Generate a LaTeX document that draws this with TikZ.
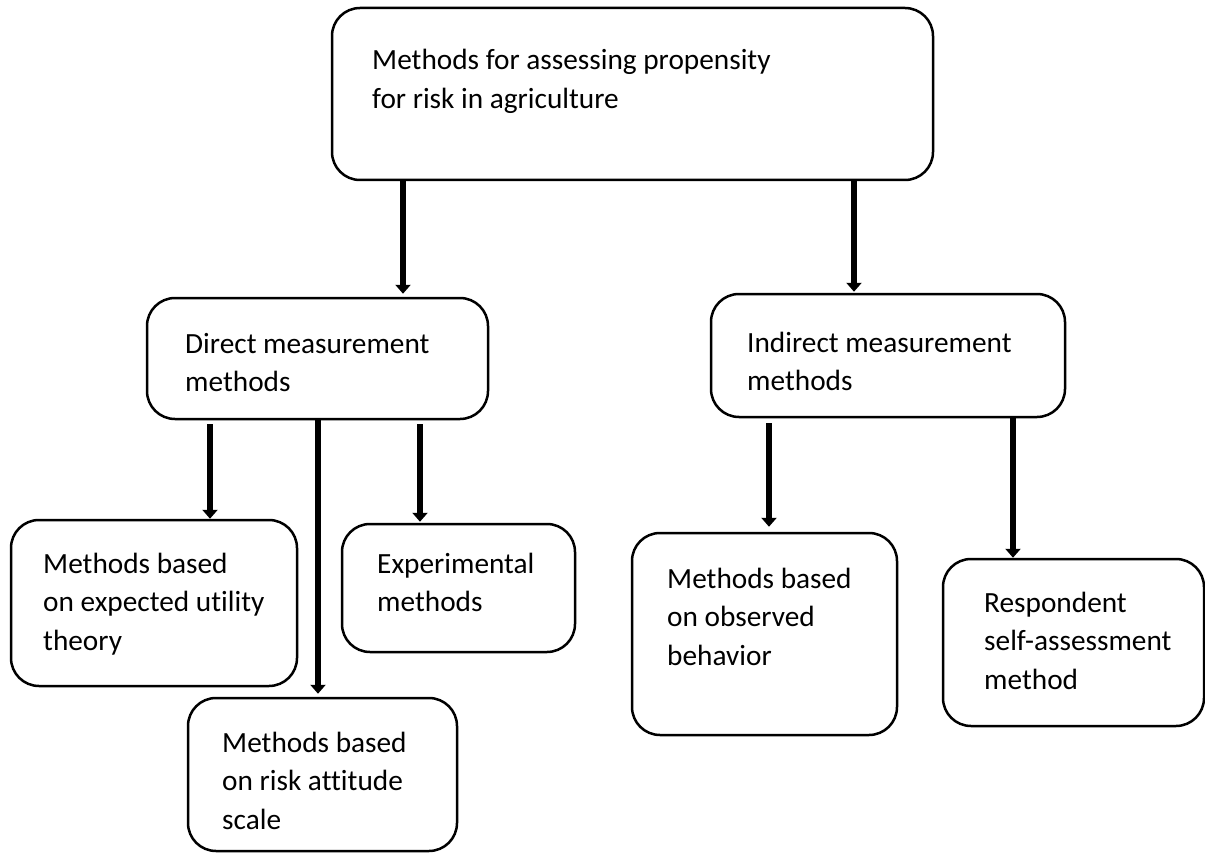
\documentclass[tikz,border=0pt]{standalone}
\usepackage{fontspec}
\setmainfont{Carlito}[Ligatures={NoCommon}]
\usetikzlibrary{arrows.meta}
\newcommand{\mylines}[1]{\begin{tabular}[t]{@{}l@{}}#1\end{tabular}}
\tikzset{
  box/.style={draw=black, line width=2.5pt, rounded corners=28pt, fill=white, inner sep=0pt},
  txt/.style={anchor=base west, inner sep=0pt, font=\fontsize{29.3}{38.5}\selectfont},
  arr/.style={line width=6.5pt, -{Triangle[width=15pt,length=9pt]}},
}
\begin{document}
\begin{tikzpicture}[x=1pt,y=-1pt]
\useasboundingbox (0,0) rectangle (1205,853);
% boxes
\node[box, minimum width=601pt, minimum height=172pt] (top) at (632.5,94) {};
\node[box, minimum width=341pt, minimum height=121pt] (direct) at (317.5,358.5) {};
\node[box, minimum width=354pt, minimum height=123pt] (indirect) at (888,355.5) {};
\node[box, minimum width=286pt, minimum height=166pt] (eu) at (154,603) {};
\node[box, minimum width=233pt, minimum height=128pt] (exp) at (458.5,588) {};
\node[box, minimum width=269pt, minimum height=153pt] (risk) at (322.5,774.5) {};
\node[box, minimum width=265pt, minimum height=202pt] (obs) at (764.5,634) {};
\node[box, minimum width=261pt, minimum height=167pt] (resp) at (1073.5,642.5) {};
% texts
\node[txt] (toptxt) at (372,70) {\mylines{Methods for assessing propensity\\for risk in agriculture}};
\node[txt] (directtxt) at (185,353) {\mylines{Direct measurement\\methods}};
\node[txt] (indirecttxt) at (747,352) {\mylines{Indirect measurement\\methods}};
\node[txt] (eutxt) at (43,573) {\mylines{Methods based\\on expected utility\\theory}};
\node[txt] (exptxt) at (377,573) {\mylines{Experimental\\methods}};
\node[txt] (risktxt) at (222,752) {\mylines{Methods based\\on risk attitude\\scale}};
\node[txt] (obstxt) at (667,588) {\mylines{Methods based\\on observed\\behavior}};
\node[txt] (resptxt) at (984,612) {\mylines{Respondent\\self-assessment\\method}};
% arrow x positions
\coordinate (xa1) at (403,0);
\coordinate (xa2) at (854,0);
\coordinate (xb1) at (210,0);
\coordinate (xb2) at (318,0);
\coordinate (xb3) at (420,0);
\coordinate (xc1) at (769,0);
\coordinate (xc2) at (1013,0);
% connectors
\draw[arr, shorten >=3pt] (top.south -| xa1) -- (direct.north -| xa1);
\draw[arr, shorten >=1pt] (top.south -| xa2) -- (indirect.north -| xa2);
\draw[arr, shorten <=4pt] (direct.south -| xb1) -- (eu.north -| xb1);
\draw[arr, shorten >=3pt] (direct.south -| xb2) -- (risk.north -| xb2);
\draw[arr, shorten <=4pt, shorten >=1pt] (direct.south -| xb3) -- (exp.north -| xb3);
\draw[arr, shorten <=5pt, shorten >=5pt] (indirect.south -| xc1) -- (obs.north -| xc1);
\draw[arr] (indirect.south -| xc2) -- (resp.north -| xc2);
\end{tikzpicture}
\end{document}
